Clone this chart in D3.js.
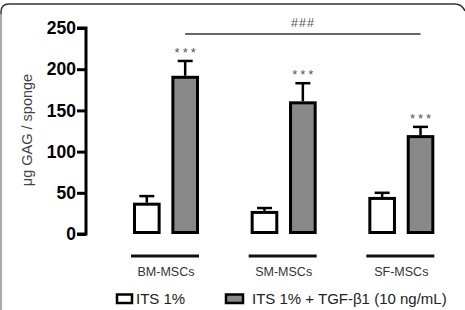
<!DOCTYPE html>
<html>
<head>
<meta charset="utf-8">
<script src="https://cdnjs.cloudflare.com/ajax/libs/d3/7.8.5/d3.min.js"></script>
<style>
  body { margin:0; background:#fff; }
  svg { display:block; font-family: "Liberation Sans", Arial, sans-serif; }
</style>
</head>
<body>
<div id="chart"></div>
<script>
// data
var groups = ["BM-MSCs", "SM-MSCs", "SF-MSCs"];
var series = ["ITS 1%", "ITS 1% + TGF-\u03b21 (10 ng/mL)"];
var itsMean = [38, 28, 45];
var itsErr  = [8, 3.5, 5];
var tgfMean = [192, 161, 120];
var tgfErr  = [18, 22, 10];
var yTicks = [0, 50, 100, 150, 200, 250];
var colors = ["#fff", "#888"];

var width = 465, height = 310;

var svg = d3.select("#chart").append("svg")
    .attr("width", width)
    .attr("height", height);

// frame (cropped rounded box)
svg.append("path")
    .attr("d", "M1,310 L1,12 Q1,4 9,4 L455,4 Q462,4 465,11")
    .attr("fill", "none")
    .attr("stroke", "#333")
    .attr("stroke-width", 1.5);
svg.append("line")
    .attr("x1", 1).attr("x2", 1).attr("y1", 14).attr("y2", 310)
    .attr("stroke", "#aaa").attr("stroke-width", 2);

var y = d3.scaleLinear().domain([0, 250]).range([234, 28]);

var x0 = d3.scaleBand().domain(groups).range([107, 460]).padding(0);
var x1 = d3.scaleBand().domain([0, 1]).range([26, 92]).paddingInner(0.28).paddingOuter(0);

// y axis
var yAxis = d3.axisLeft(y).tickValues(yTicks).tickSize(9).tickPadding(1);
var ax = svg.append("g").attr("transform", "translate(86,0)").call(yAxis);
ax.select(".domain").attr("stroke", "#000").attr("stroke-width", 3)
    .attr("d", "M-9," + y(250) + "H0V" + y(0) + "H-9");
ax.selectAll(".tick line").attr("stroke", "#000").attr("stroke-width", 3);
ax.selectAll(".tick text")
    .attr("fill", "#000")
    .style("font-size", "17.5px")
    .style("font-weight", "bold")
    .style("font-family", "Liberation Sans, Arial, sans-serif");

// y label
svg.append("text")
    .attr("transform", "translate(32,130) rotate(-90)")
    .attr("text-anchor", "middle")
    .attr("fill", "#444")
    .style("font-size", "14.5px")
    .text("\u03bcg GAG / sponge");

var data = [];
groups.forEach(function(g, i) {
  data.push({g: g, s: 0, v: itsMean[i], e: itsErr[i]});
  data.push({g: g, s: 1, v: tgfMean[i], e: tgfErr[i]});
});

var bw = x1.bandwidth();
function bx(d) { return x0(d.g) + x1(d.s); }

// error bars (upper only)
var eb = svg.append("g").selectAll("g").data(data).enter().append("g");
eb.append("line")
    .attr("x1", function(d){ return bx(d) + bw/2; })
    .attr("x2", function(d){ return bx(d) + bw/2; })
    .attr("y1", function(d){ return y(d.v); })
    .attr("y2", function(d){ return y(d.v + d.e); })
    .attr("stroke", "#000").attr("stroke-width", 2.5);
eb.append("line")
    .attr("x1", function(d){ return bx(d) + bw/2 - 7.5; })
    .attr("x2", function(d){ return bx(d) + bw/2 + 7.5; })
    .attr("y1", function(d){ return y(d.v + d.e); })
    .attr("y2", function(d){ return y(d.v + d.e); })
    .attr("stroke", "#000").attr("stroke-width", 2.5);

// bars
svg.append("g").selectAll("rect").data(data).enter().append("rect")
    .attr("x", function(d){ return bx(d) + 1.5; })
    .attr("y", function(d){ return y(d.v) + 1.5; })
    .attr("width", bw - 3)
    .attr("height", function(d){ return y(0) - y(d.v) - 3; })
    .attr("fill", function(d){ return colors[d.s]; })
    .attr("stroke", "#000")
    .attr("stroke-width", 3);

// stars
svg.append("g").selectAll("text").data(data.filter(function(d){ return d.s == 1; }))
  .enter().append("text")
    .attr("x", function(d){ return bx(d) + bw/2 + 1.5; })
    .attr("y", function(d){ return y(d.v + d.e) - 4; })
    .attr("text-anchor", "middle")
    .attr("fill", "#555")
    .style("font-size", "13px")
    .style("letter-spacing", "3px")
    .text("***");

// ### bracket
svg.append("line")
    .attr("x1", x0("BM-MSCs") + x1(1) + bw/2)
    .attr("x2", x0("SF-MSCs") + x1(1) + bw/2)
    .attr("y1", 34).attr("y2", 34)
    .attr("stroke", "#333").attr("stroke-width", 1.5);
svg.append("text")
    .attr("x", 303).attr("y", 27)
    .attr("text-anchor", "middle")
    .attr("fill", "#555")
    .style("font-size", "12.5px")
    .style("letter-spacing", "1px")
    .text("###");

// group lines + labels
var gl = svg.append("g").selectAll("g").data(groups).enter().append("g");
gl.append("line")
    .attr("x1", function(d){ return x0(d) + x1(0) - 2; })
    .attr("x2", function(d){ return x0(d) + x1(1) + bw; })
    .attr("y1", 256).attr("y2", 256)
    .attr("stroke", "#111").attr("stroke-width", 3);
gl.append("text")
    .attr("x", function(d){ return x0(d) + x1(0) - 1 + (x1(1) + bw - x1(0) + 2)/2; })
    .attr("y", 276)
    .attr("text-anchor", "middle")
    .attr("fill", "#333")
    .style("font-size", "12.5px")
    .text(function(d){ return d; });

// legend
var lx = [116, 225], lw = [17, 19];
var lg = svg.append("g").selectAll("g").data(series).enter().append("g");
lg.append("rect")
    .attr("x", function(d,i){ return lx[i] + 1; })
    .attr("y", 294.5)
    .attr("width", function(d,i){ return lw[i] - 2; })
    .attr("height", 8.5)
    .attr("fill", function(d,i){ return colors[i]; })
    .attr("stroke", "#000")
    .attr("stroke-width", 2.5);
lg.append("text")
    .attr("x", function(d,i){ return lx[i] + lw[i] + 3 + i*5; })
    .attr("y", 304)
    .attr("fill", "#222")
    .style("font-size", "15px")
    .text(function(d){ return d; });
</script>
</body>
</html>
